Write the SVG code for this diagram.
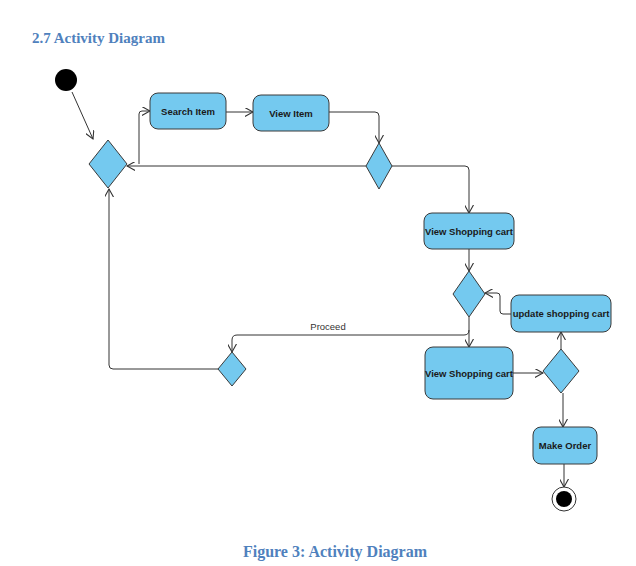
<svg xmlns="http://www.w3.org/2000/svg" width="636" height="566" viewBox="0 0 636 566">
<defs>
<marker id="arr" viewBox="0 0 10 10" refX="9" refY="5" markerWidth="9" markerHeight="9" markerUnits="userSpaceOnUse" orient="auto">
<path d="M0,0 L9,5 L0,10" fill="none" stroke="#333" stroke-width="1.2"/>
</marker>
<style>
.act{fill:#74c9ef;stroke:#3a3a3a;stroke-width:1}
.dec{fill:#74c9ef;stroke:#3a3a3a;stroke-width:1}
.lbl{font-family:"Liberation Sans",Arial,sans-serif;font-weight:bold;font-size:9.5px;fill:#1a1a1a;text-anchor:middle}
.head{font-family:"Liberation Serif","Times New Roman",serif;font-weight:bold;fill:#4f81bd}
.c{fill:none;stroke:#333;stroke-width:1;marker-end:url(#arr)}
.cl{font-family:"Liberation Sans",Arial,sans-serif;font-size:9.5px;fill:#333}
</style>
</defs>
<rect width="636" height="566" fill="#fff"/>
<text class="head" x="32" y="43" font-size="15">2.7 Activity Diagram</text>
<text class="head" x="335" y="557" font-size="16" text-anchor="middle">Figure 3: Activity Diagram</text>

<g id="connectors">
<path class="c" d="M72,92 L93,139"/>
<path class="c" d="M139,164 V114 Q139,111 142,111 H150"/>
<path class="c" d="M226,112 H253"/>
<path class="c" d="M329,112 H375 Q379,112 379,116 V143"/>
<path class="c" d="M366,166 H127"/>
<path class="c" d="M392,166 H465 Q469,166 469,170 V213"/>
<path class="c" d="M469,249 V271"/>
<path class="c" d="M511,314 H503 Q500,314 500,311 V296 Q500,293 497,293 H485"/>
<path class="c" d="M469,317 V347"/>
<path class="c" d="M469,330 Q469,335 464,335 H237 Q232,335 232,340 V352"/>
<path class="c" d="M218,369 H113 Q109,369 109,365 V189"/>
<path class="c" d="M513,373 H543"/>
<path class="c" d="M561,349 V332"/>
<path class="c" d="M563,393 V427"/>
<path class="c" d="M564,464 V487"/>
<text class="cl" x="328" y="330" text-anchor="middle">Proceed</text>
</g>

<g id="start"><circle cx="66" cy="80" r="11" fill="#000"/></g>
<g id="decision1"><polygon class="dec" points="108,140 127,164 108,188 89,164"/></g>
<g id="searchItem"><rect class="act" x="150" y="93" width="76" height="36" rx="8"/><text class="lbl" x="188" y="115">Search Item</text></g>
<g id="viewItem"><rect class="act" x="253" y="95" width="76" height="36" rx="8"/><text class="lbl" x="291" y="117">View Item</text></g>
<g id="decision2"><polygon class="dec" points="379,143 392,166 379,189 366,166"/></g>
<g id="viewCart1"><rect class="act" x="424" y="213" width="90" height="36" rx="8"/><text class="lbl" x="469" y="235">View Shopping cart</text></g>
<g id="decision3"><polygon class="dec" points="469,271 485,294 469,317 453,294"/></g>
<g id="updateCart"><rect class="act" x="511" y="295" width="100" height="37" rx="8"/><text class="lbl" x="561" y="317">update shopping cart</text></g>
<g id="decision4"><polygon class="dec" points="232,352 246,369 232,386 218,369"/></g>
<g id="viewCart2"><rect class="act" x="425" y="347" width="88" height="52" rx="8"/><text class="lbl" x="469" y="377">View Shopping cart</text></g>
<g id="decision5"><polygon class="dec" points="561,349 579,371 561,393 543,371"/></g>
<g id="makeOrder"><rect class="act" x="533" y="427" width="64" height="37" rx="8"/><text class="lbl" x="565" y="449">Make Order</text></g>
<g id="end"><circle cx="564" cy="499" r="12" fill="#fff" stroke="#333" stroke-width="1"/><circle cx="564" cy="499" r="8" fill="#000"/></g>
</svg>
